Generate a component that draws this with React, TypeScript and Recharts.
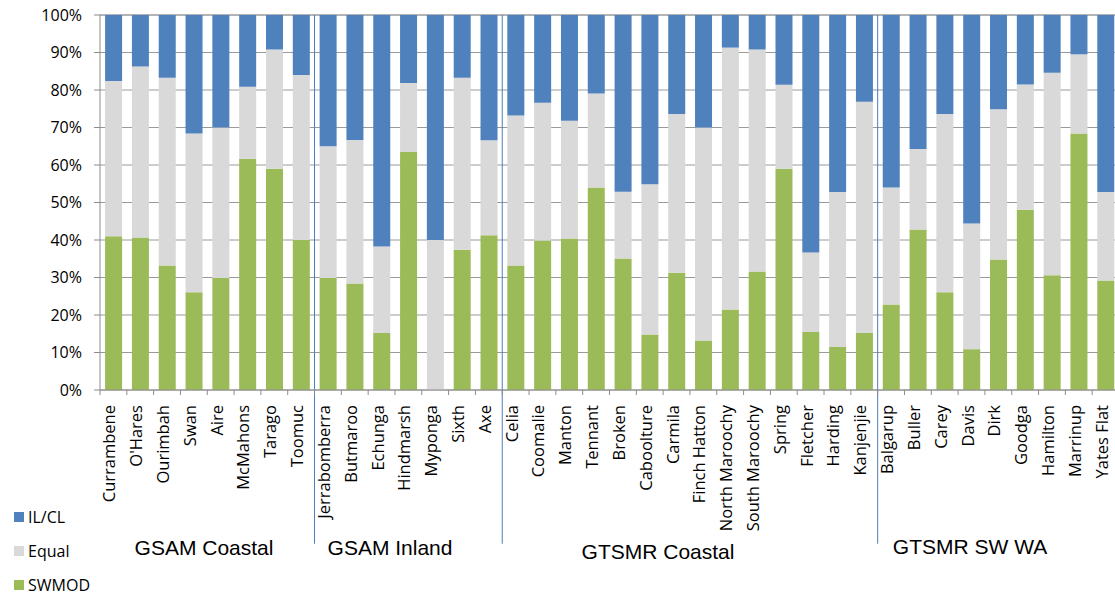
import { BarChart, Bar, XAxis, YAxis, CartesianGrid, Legend, ReferenceLine } from "recharts";

const sites = [
  "Currambene", "O'Hares", "Ourimbah", "Swan", "Aire", "McMahons", "Tarago", "Toomuc",
  "Jerrabomberra", "Butmaroo", "Echunga", "Hindmarsh", "Myponga", "Sixth", "Axe",
  "Celia", "Coomalie", "Manton", "Tennant", "Broken", "Caboolture", "Carmila", "Finch Hatton",
  "North Maroochy", "South Maroochy", "Spring", "Fletcher", "Harding", "Kanjenjie",
  "Balgarup", "Buller", "Carey", "Davis", "Dirk", "Goodga", "Hamilton", "Marrinup", "Yates Flat",
];

const swmod = [
  41.0, 40.7, 33.2, 26.1, 29.9, 61.7, 59.0, 40.0,
  29.9, 28.4, 15.2, 63.5, 0, 37.4, 41.3,
  33.2, 39.9, 40.4, 54.0, 35.1, 14.8, 31.3, 13.2, 21.5, 31.6, 59.0, 15.5, 11.5, 15.2,
  22.8, 42.8, 26.1, 10.9, 34.8, 48.1, 30.6, 68.4, 29.2,
];

const equal = [
  41.4, 45.6, 50.1, 42.3, 40.1, 19.2, 31.8, 44.0,
  35.1, 38.3, 23.1, 18.4, 40.0, 45.9, 25.3,
  40.0, 36.7, 31.4, 25.1, 17.8, 40.1, 42.3, 56.8, 69.8, 59.2, 22.4, 21.2, 41.3, 61.7,
  31.2, 21.5, 47.5, 33.5, 40.1, 33.4, 54.0, 21.1, 23.6,
];

const ilcl = [
  17.6, 13.7, 16.7, 31.6, 30.0, 19.1, 9.2, 16.0,
  35.0, 33.3, 61.7, 18.1, 60.0, 16.7, 33.4,
  26.8, 23.4, 28.2, 20.9, 47.1, 45.1, 26.4, 30.0, 8.7, 9.2, 18.6, 63.3, 47.2, 23.1,
  46.0, 35.7, 26.4, 55.6, 25.1, 18.5, 15.4, 10.5, 47.2,
];

const groupNames = ["GSAM Coastal", "GSAM Inland", "GTSMR Coastal", "GTSMR SW WA"];
const groupSizes = [8, 7, 14, 9];

const yTicks = [0, 10, 20, 30, 40, 50, 60, 70, 80, 90, 100];

const legendOrder = ["IL/CL", "Equal", "SWMOD"];

const data = sites.map((site, i) => ({
  site,
  SWMOD: swmod[i],
  Equal: equal[i],
  "IL/CL": ilcl[i],
}));

// first site of every group after the first one -> separator line
const groupStarts: string[] = [];
let acc = 0;
groupSizes.forEach((n, i) => {
  if (i > 0) groupStarts.push(sites[acc]);
  acc += n;
});

const groupLabelPos = [
  { x: 204, top: 536 },
  { x: 390, top: 536 },
  { x: 658, top: 540 },
  { x: 970, top: 535 },
];

const COLORS: Record<string, string> = { "IL/CL": "#4f81bd", Equal: "#d9d9d9", SWMOD: "#9bbb59" };
const AXIS = "#8c8c8c";
const X_TICK_SIZE = 5;
const X_TICK_MARGIN = 10;
const FONT = "'Open Sans', sans-serif";

const CategoryTick = (props: any) => {
  const { x, y, payload, index } = props;
  const half = payload.offset ?? 13.4;
  const axisY = y - X_TICK_SIZE - X_TICK_MARGIN;
  const tx = x + 2;
  return (
    <g>
      {index === 0 && (
        <line x1={x - half} x2={x - half} y1={axisY} y2={axisY + X_TICK_SIZE} stroke={AXIS} />
      )}
      <line x1={x + half} x2={x + half} y1={axisY} y2={axisY + X_TICK_SIZE} stroke={AXIS} />
      <text
        x={tx}
        y={y}
        transform={`rotate(-90, ${tx}, ${y})`}
        textAnchor="end"
        fontSize={16.5}
        fontFamily={FONT}
        fill="#000"
      >
        {payload.value}
      </text>
    </g>
  );
};

const LegendList = () => (
  <div style={{ fontFamily: FONT, fontSize: 16, color: "#000" }}>
    {legendOrder.map((name) => (
      <div key={name} style={{ display: "flex", alignItems: "center", height: 34 }}>
        <span style={{ width: 10, height: 10, background: COLORS[name], marginRight: 4 }} />
        {name}
      </div>
    ))}
  </div>
);

export default function App() {
  return (
    <div style={{ position: "absolute", left: 0, top: 0, width: 1115, height: 596, overflow: "hidden", background: "#fff" }}>
      <BarChart
        width={1120}
        height={596}
        data={data}
        margin={{ top: 15, right: 1, left: 0, bottom: 0 }}
        barCategoryGap="19%"
      >
        <CartesianGrid vertical={false} stroke="#9a9a9a" />
        <XAxis
          dataKey="site"
          interval={0}
          height={206}
          stroke={AXIS}
          tickLine={false}
          tickSize={X_TICK_SIZE}
          tickMargin={X_TICK_MARGIN}
          tick={<CategoryTick />}
        />
        <YAxis
          width={100}
          domain={[0, 100]}
          ticks={yTicks}
          stroke={AXIS}
          tickSize={6}
          tickMargin={12}
          tickFormatter={(v: number) => `${v}%`}
          tick={{ fill: "#000", fontSize: 16, fontFamily: FONT }}
        />
        <Bar dataKey="SWMOD" stackId="a" fill={COLORS.SWMOD} isAnimationActive={false} />
        <Bar dataKey="Equal" stackId="a" fill={COLORS.Equal} isAnimationActive={false} />
        <Bar dataKey="IL/CL" stackId="a" fill={COLORS["IL/CL"]} isAnimationActive={false} />
        {groupStarts.map((s) => (
          <ReferenceLine
            key={s}
            segment={[{ x: s, y: 100 }, { x: s, y: -41 }]}
            position="start"
            ifOverflow="visible"
            stroke="#4a7ebb"
            strokeWidth={1}
          />
        ))}
        <Legend
          layout="vertical"
          align="center"
          verticalAlign="middle"
          content={<LegendList />}
          wrapperStyle={{ left: 14, top: 500, width: 120 }}
        />
      </BarChart>
      {groupNames.map((g, i) => (
        <div
          key={g}
          style={{
            position: "absolute",
            left: groupLabelPos[i].x - 100,
            width: 200,
            top: groupLabelPos[i].top,
            textAlign: "center",
            fontFamily: "'Liberation Sans', Arial, sans-serif",
            fontSize: 21,
            lineHeight: "24px",
            color: "#000",
          }}
        >
          {g}
        </div>
      ))}
    </div>
  );
}
